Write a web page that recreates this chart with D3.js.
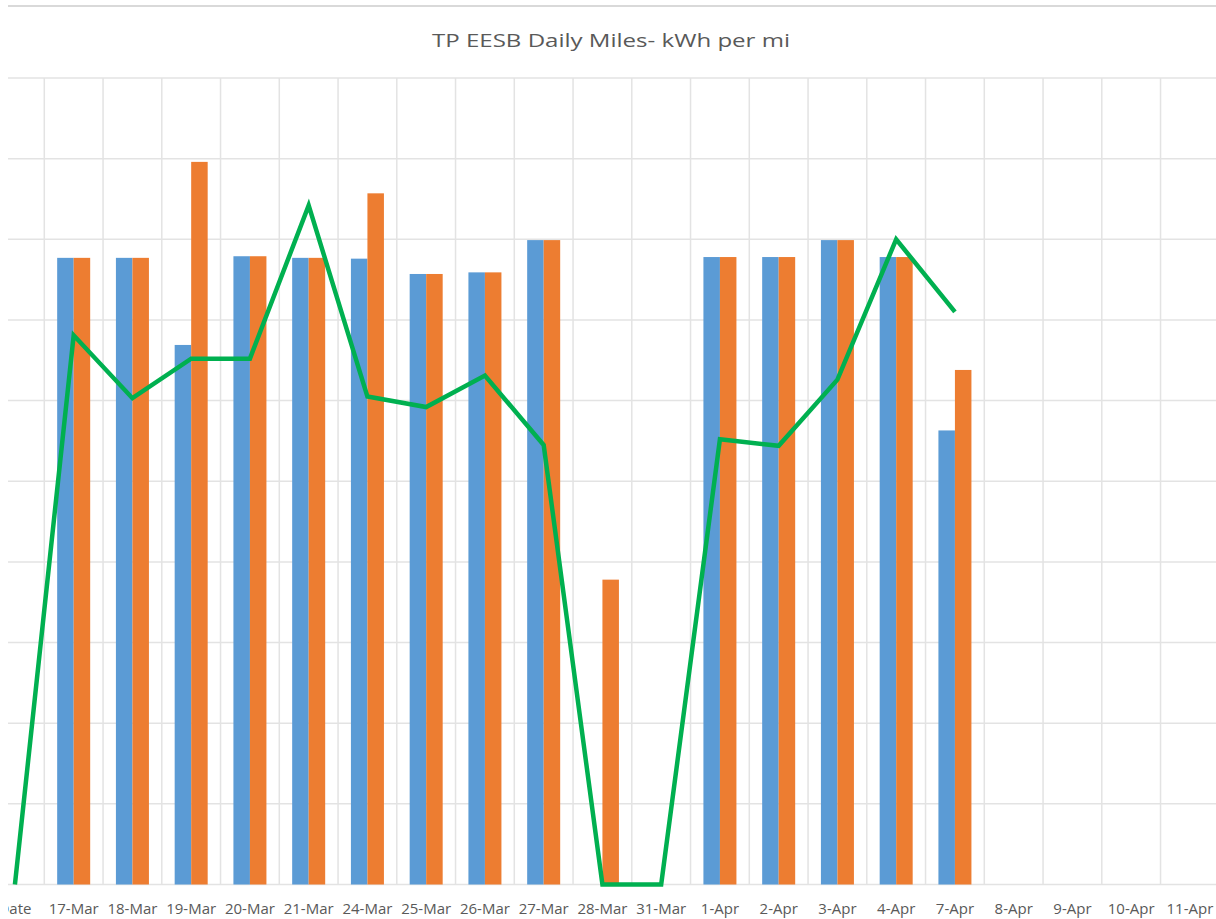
<!DOCTYPE html>
<html>
<head>
<meta charset="utf-8">
<script src="https://cdn.jsdelivr.net/npm/d3@7"></script>
<style>
  html, body { margin: 0; padding: 0; background: #fff; overflow: hidden; }
  svg { display: block; }
</style>
</head>
<body>
<svg id="chart" width="1216" height="919"></svg>
<script>
// categories on the x axis (first one is cut off on the left in the original)
const categories = ["Date", "17-Mar", "18-Mar", "19-Mar", "20-Mar", "21-Mar", "24-Mar", "25-Mar",
    "26-Mar", "27-Mar", "28-Mar", "31-Mar", "1-Apr", "2-Apr", "3-Apr", "4-Apr", "7-Apr",
    "8-Apr", "9-Apr", "10-Apr", "11-Apr"]

// bar series (blue / orange) and the green line
const blueValues = [null, 77.7, 77.7, 66.9, 77.9, 77.7, 77.6, 75.7, 75.9, 79.9, null, null,
    77.8, 77.8, 79.9, 77.8, 56.3, null, null, null, null]
const orangeValues = [null, 77.7, 77.7, 89.6, 77.9, 77.7, 85.7, 75.7, 75.9, 79.9, 37.8, null,
    77.8, 77.8, 79.9, 77.8, 63.8, null, null, null, null]
const lineValues = [0, 68.1, 60.3, 65.2, 65.2, 84.2, 60.5, 59.2, 63.1, 54.5, 0, 0,
    55.2, 54.4, 62.6, 80.0, 71.0, null, null, null, null]

const yTicks = [0, 10, 20, 30, 40, 50, 60, 70, 80, 90, 100]

const colors = {blue: "#5B9BD5", orange: "#ED7D31", line: "#00B050", grid: "#e3e3e3", text: "#595959"}

const width = 1216,
    height = 919,
    plotTop = 78,
    plotBottom = 884.5,
    gridLeft = 8

const svg = d3.select("#chart")

const x = d3.scaleBand()
    .domain(categories)
    .range([-14.45, 1219.3])
    .paddingInner(0)
    .paddingOuter(0)

const xSub = d3.scaleBand()
    .domain(["blue", "orange"])
    .range([0, x.bandwidth()])
    .paddingInner(0)
    .paddingOuter(0.78)

const y = d3.scaleLinear()
    .domain([0, 100])
    .range([plotBottom, plotTop])

// top border line
svg.append("line")
    .attr("x1", gridLeft).attr("x2", width)
    .attr("y1", 6).attr("y2", 6)
    .attr("stroke", "#d9d9d9")
    .attr("stroke-width", 2)

// title
svg.append("text")
    .attr("x", 611)
    .attr("y", 47)
    .attr("text-anchor", "middle")
    .attr("fill", colors.text)
    .style("font-family", "'Open Sans', sans-serif")
    .style("font-size", "19px")
    .attr("textLength", 358)
    .attr("lengthAdjust", "spacingAndGlyphs")
    .text("TP EESB Daily Miles- kWh per mi")

// horizontal gridlines
svg.append("g")
    .selectAll("line")
    .data(yTicks)
    .join("line")
    .attr("x1", gridLeft)
    .attr("x2", width)
    .attr("y1", d => y(d))
    .attr("y2", d => y(d))
    .attr("stroke", colors.grid)
    .attr("stroke-width", 1.5)

// vertical gridlines at category boundaries
svg.append("g")
    .selectAll("line")
    .data(categories.slice(1))
    .join("line")
    .attr("x1", d => x(d))
    .attr("x2", d => x(d))
    .attr("y1", plotTop)
    .attr("y2", plotBottom)
    .attr("stroke", colors.grid)
    .attr("stroke-width", 1.5)

// bars
const barData = []
categories.forEach((c, i) => {
    if (blueValues[i] != null) barData.push({cat: c, key: "blue", value: blueValues[i]})
    if (orangeValues[i] != null) barData.push({cat: c, key: "orange", value: orangeValues[i]})
})

svg.append("g")
    .selectAll("rect")
    .data(barData)
    .join("rect")
    .attr("x", d => x(d.cat) + xSub(d.key))
    .attr("width", xSub.bandwidth())
    .attr("y", d => y(d.value))
    .attr("height", d => y(0) - y(d.value))
    .attr("fill", d => colors[d.key])

// green line
const line = d3.line()
    .defined(d => d.value != null)
    .x(d => x(d.cat) + x.bandwidth() / 2)
    .y(d => y(d.value))

svg.append("path")
    .datum(categories.map((c, i) => ({cat: c, value: lineValues[i]})))
    .attr("d", line)
    .attr("fill", "none")
    .attr("stroke", colors.line)
    .attr("stroke-width", 4.5)
    .attr("stroke-linejoin", "miter")

// x axis labels
const xAxis = d3.axisBottom(x).tickSize(0).tickPadding(19)
const gx = svg.append("g")
    .attr("transform", `translate(0,${plotBottom})`)
    .call(xAxis)
gx.select(".domain").remove()
gx.selectAll("text")
    .attr("fill", colors.text)
    .style("font-family", "'Open Sans', sans-serif")
    .style("font-size", "15px")

// the original picture is cropped a bit on the left: blank strip
svg.append("rect")
    .attr("x", 0).attr("y", 0)
    .attr("width", gridLeft).attr("height", height)
    .attr("fill", "#fff")
</script>
</body>
</html>
